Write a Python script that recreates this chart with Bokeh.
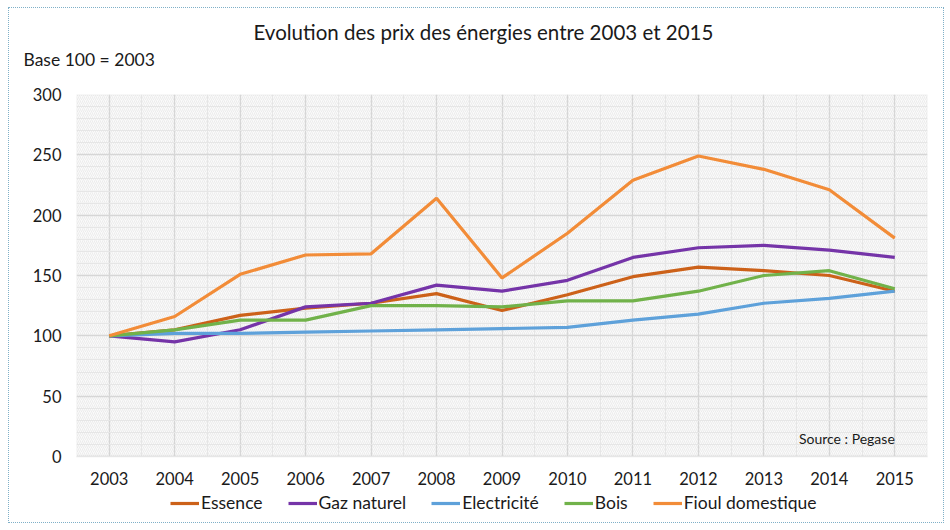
from bokeh.plotting import figure
from bokeh.models import (Range1d, FixedTicker, Legend, LegendItem,
                          Label, BoxAnnotation, Title)
from bokeh.embed import file_html
from bokeh.resources import INLINE

years = [2003, 2004, 2005, 2006, 2007, 2008, 2009, 2010, 2011, 2012, 2013, 2014, 2015]
essence = [100, 105, 117, 123, 127, 135, 121, 134, 149, 157, 154, 150, 137]
gaz_naturel = [100, 95, 105, 124, 127, 142, 137, 146, 165, 173, 175, 171, 165]
electricite = [100, 102, 102, 103, 104, 105, 106, 107, 113, 118, 127, 131, 137]
bois = [100, 105, 113, 113, 125, 125, 124, 129, 129, 137, 150, 154, 139]
fioul = [100, 116, 151, 167, 168, 214, 148, 185, 229, 249, 238, 221, 181]

y_ticks = [0, 50, 100, 150, 200, 250, 300]
y_minor = [v for v in range(10, 300, 10) if v % 50]
x_minor = [y + 0.5 for y in years[:-1]]

series_names = ["Essence", "Gaz naturel", "Electricité", "Bois", "Fioul domestique"]
series_values = [essence, gaz_naturel, electricite, bois, fioul]
series_colors = ["#CC6119", "#7534A8", "#5EA1DA", "#71B24A", "#F28C38"]

FONT = "Lato"
TXT = "#1a1a1a"
Y_MIN, Y_MAX = 0, 300

# frame extends below the plot area to hold the tick labels and the legend
p = figure(frame_width=851, frame_height=428, output_backend="svg", toolbar_location=None,
           x_range=Range1d(2002.5, 2015.5), y_range=Range1d(-54.7, Y_MAX),
           min_border_left=67, min_border_right=16, min_border_top=0, min_border_bottom=0)
p.styles = {"border": "1px dotted #7FB0C8", "margin-left": "8px", "margin-top": "7px"}

p.background_fill_color = "white"
p.border_fill_color = "white"
p.outline_line_color = None

# plot area background (hatched light grey)
area = BoxAnnotation(bottom=Y_MIN, top=Y_MAX, fill_color="#FAFAFA", fill_alpha=1, line_color=None,
                     hatch_pattern="/", hatch_color="#E3E3E3", hatch_scale=4, hatch_weight=0.6,
                     level="image")
p.add_layout(area)

# axes
p.xaxis.ticker = FixedTicker(ticks=years, minor_ticks=x_minor)
p.yaxis.ticker = FixedTicker(ticks=y_ticks, minor_ticks=y_minor)
p.xaxis.fixed_location = Y_MIN
for ax in (p.xaxis, p.yaxis):
    ax.axis_line_color = None
    ax.major_tick_line_color = None
    ax.minor_tick_line_color = None
    ax.major_tick_out = 0
    ax.minor_tick_out = 0
    ax.major_label_text_font = FONT
    ax.major_label_text_font_size = "16.5px"
    ax.major_label_text_color = TXT
p.yaxis.major_label_standoff = 15
p.xaxis.major_label_standoff = 16

p.xgrid.grid_line_color = "#D6D6D6"
p.xgrid.grid_line_width = 1.3
p.xgrid.minor_grid_line_color = "#E6E6E6"
p.ygrid.grid_line_color = "#D6D6D6"
p.ygrid.grid_line_width = 1.3
p.ygrid.minor_grid_line_color = "#E6E6E6"

# white cover below the plot area (hides grid lines there), then plot-area border
cover = BoxAnnotation(top=Y_MIN, fill_color="white", fill_alpha=1, line_color=None, level="underlay")
p.add_layout(cover)
border = BoxAnnotation(bottom=Y_MIN, top=Y_MAX, fill_alpha=0, line_color="#DCDCDC",
                       line_width=2, level="underlay")
p.add_layout(border)

renderers = []
for name, vals, col in zip(series_names, series_values, series_colors):
    r = p.line(years, vals, line_color=col, line_width=3.2)
    renderers.append((name, r))

legend = Legend(items=[LegendItem(label=n, renderers=[r]) for n, r in renderers],
                orientation="horizontal", location=(94, 9),
                label_text_font=FONT, label_text_font_size="17.5px", label_text_color=TXT,
                glyph_width=29, glyph_height=16, label_height=16, label_standoff=2,
                spacing=25, padding=2, margin=0,
                background_fill_alpha=0, border_line_color=None)
p.add_layout(legend)

# titles above the frame (first added = closest to the frame)
p.add_layout(Title(text=" ", text_font=FONT, text_font_size="1px", standoff=21), "above")
p.add_layout(Title(text="Base 100 = 2003", text_font=FONT, text_font_size="17.5px",
                   text_font_style="normal", text_color=TXT,
                   align="left", offset=-53, standoff=2), "above")
p.add_layout(Title(text="Evolution des prix des énergies entre 2003 et 2015", text_font=FONT,
                   text_font_size="20.5px", text_font_style="normal", text_color=TXT,
                   align="left", offset=177, standoff=3), "above")
p.add_layout(Title(text=" ", text_font=FONT, text_font_size="1px", standoff=5), "above")

p.add_layout(Label(x=2015, y=8, text="Source : Pegase", text_font=FONT, text_font_size="14px",
                   text_align="right", text_baseline="bottom", text_color=TXT))

open("out.html", "w").write(file_html(p, INLINE))
